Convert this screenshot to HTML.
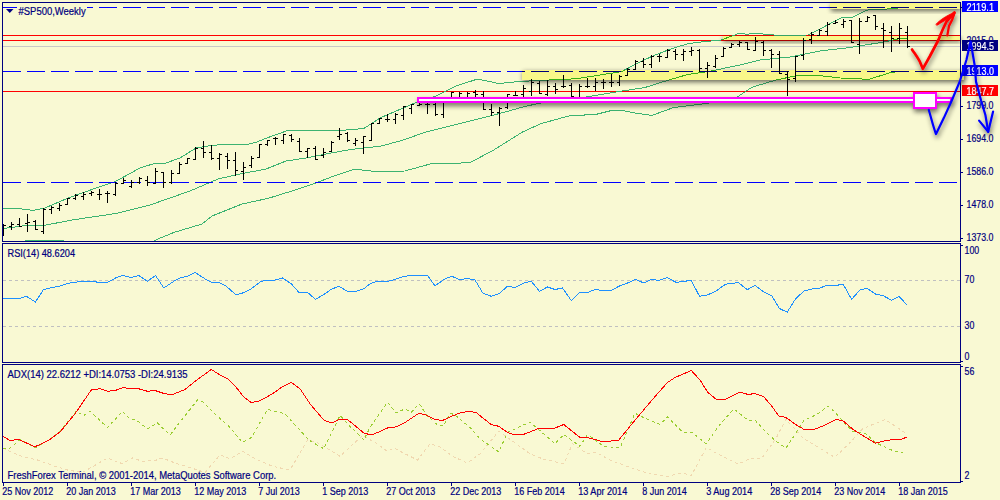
<!DOCTYPE html><html><head><meta charset="utf-8"><style>html,body{margin:0;padding:0;background:#F9F9D3;overflow:hidden}svg{display:block}</style></head><body>
<svg width="1000" height="500" viewBox="0 0 1000 500" shape-rendering="crispEdges">
<defs>
<clipPath id="cm"><rect x="3" y="3" width="957" height="238"/></clipPath>
<clipPath id="cr"><rect x="3" y="244" width="957" height="118"/></clipPath>
<clipPath id="ca"><rect x="3" y="365" width="957" height="117"/></clipPath>
<filter id="sh" x="-20%" y="-50%" width="140%" height="200%"><feGaussianBlur stdDeviation="2.6"/></filter>
<filter id="dsh" x="-30%" y="-100%" width="160%" height="300%"><feGaussianBlur in="SourceAlpha" stdDeviation="2.6"/><feOffset dx="1" dy="2.5"/><feComponentTransfer><feFuncA type="linear" slope="0.55"/></feComponentTransfer><feMerge><feMergeNode/><feMergeNode in="SourceGraphic"/></feMerge></filter>
</defs>
<rect x="0" y="0" width="1000" height="500" fill="#F9F9D3"/>
<g clip-path="url(#cm)">
<line x1="3" y1="46.5" x2="960" y2="46.5" stroke="#C8C8C8" stroke-width="1"/>
<line x1="3" y1="35.5" x2="960" y2="35.5" stroke="#FF0000" stroke-width="1"/>
<line x1="3" y1="40.5" x2="960" y2="40.5" stroke="#FF0000" stroke-width="1"/>
<line x1="3" y1="91.5" x2="960" y2="91.5" stroke="#FF0000" stroke-width="1"/>
<polyline points="0.0,208.0 16.0,208.3 33.6,210.4 44.8,208.0 67.2,198.4 96.0,188.0 115.2,181.6 140.0,168.0 154.0,163.6 166.0,163.0 180.0,158.0 196.0,148.0 208.0,146.0 226.0,144.0 244.0,145.0 256.0,142.4 264.0,139.0 275.0,135.0 289.0,130.1 320.0,130.7 350.0,129.9 364.0,128.4 380.8,117.6 397.6,110.4 414.4,103.2 436.0,96.0 455.2,86.4 476.9,79.2 485.4,80.6 498.5,83.5 517.7,81.6 540.0,80.4 576.0,78.8 597.0,75.5 621.6,71.6 640.8,61.5 652.8,56.0 672.0,48.5 688.0,43.7 704.0,41.6 720.0,40.3 734.4,35.2 739.2,33.1 747.2,34.4 753.6,33.1 776.0,35.2 808.0,35.0 819.0,29.5 842.0,17.4 852.0,17.4 860.0,13.5 866.3,10.4 871.0,9.4 887.0,9.4 887.5,8.3 895.0,8.3 907.0,7.0" fill="none" stroke="#3CB371" stroke-width="1"/>
<polyline points="0.0,229.0 24.0,225.8 43.2,225.6 72.0,220.0 115.2,213.6 150.0,205.0 170.0,198.0 190.0,191.0 218.0,179.0 240.0,174.0 266.0,169.0 286.0,161.0 306.0,158.0 326.0,154.0 350.0,149.6 362.6,148.0 380.0,146.4 404.0,139.8 425.6,132.0 447.2,126.6 471.2,120.6 490.0,116.0 509.0,111.0 525.0,106.4 541.0,103.0 583.2,97.5 619.2,91.5 645.0,87.5 668.8,80.0 688.0,74.4 708.0,71.6 740.0,65.0 760.0,60.0 790.0,57.0 820.0,51.0 850.0,47.5 865.0,45.0 882.0,42.4 898.0,39.0 907.0,38.5" fill="none" stroke="#3CB371" stroke-width="1"/>
<polyline points="150.0,243.0 158.0,239.0 174.0,232.4 202.0,224.0 212.0,216.0 242.0,204.0 268.0,198.4 290.0,191.6 314.0,183.6 334.0,176.0 354.4,169.2 376.0,171.6 404.8,171.0 431.2,163.7 469.7,162.8 493.7,150.0 522.5,132.0 541.6,123.3 553.6,120.2 568.0,116.1 596.8,114.2 611.2,110.6 623.2,110.6 635.2,113.0 652.0,115.4 673.6,107.5 707.2,103.4 737.6,96.8 752.0,87.2 776.0,80.0 800.0,75.0 820.0,75.6 840.0,78.0 860.0,78.4 864.2,79.7 868.9,79.4 890.7,72.4 895.0,72.0 907.0,71.0" fill="none" stroke="#3CB371" stroke-width="1"/>
<line x1="25" y1="240.5" x2="64" y2="240.5" stroke="#3CB371" stroke-width="1"/>
<line x1="3" y1="7.5" x2="960" y2="7.5" stroke="#0000FF" stroke-width="1" stroke-dasharray="18 6"/>
<line x1="3" y1="71.5" x2="960" y2="71.5" stroke="#0000FF" stroke-width="1" stroke-dasharray="18 6"/>
<line x1="3" y1="182.5" x2="960" y2="182.5" stroke="#0000FF" stroke-width="1" stroke-dasharray="18 6"/>
<path d="M3.5,224V236M1.0,230.5H3.5M3.5,225.5H6.0M11.5,222V230M9.0,226.5H11.5M11.5,224.5H14.0M19.5,218V227M17.0,224.5H19.5M19.5,226.5H22.0M27.5,214V232M25.0,223.5H27.5M27.5,222.5H30.0M35.5,220V230M33.0,221.5H35.5M35.5,229.5H38.0M43.5,208V234M41.0,231.5H43.5M43.5,209.5H46.0M51.5,206V214M49.0,209.5H51.5M51.5,207.5H54.0M59.5,203V211M57.0,208.5H59.5M59.5,205.5H62.0M67.5,198V205M65.0,204.5H67.5M67.5,198.5H70.0M75.5,194V200M73.0,198.5H75.5M75.5,195.5H78.0M83.5,192V200M81.0,196.5H83.5M83.5,194.5H86.0M91.5,191V196M89.0,193.5H91.5M91.5,192.5H94.0M99.5,189V200M97.0,194.5H99.5M99.5,194.5H102.0M107.5,191V203M105.0,193.5H107.5M107.5,193.5H110.0M115.5,182V196M113.0,194.5H115.5M115.5,183.5H118.0M123.5,178V184M121.0,183.5H123.5M123.5,180.5H126.0M131.5,180V188M129.0,186.5H131.5M131.5,182.5H134.0M139.5,177V184M137.0,182.5H139.5M139.5,178.5H142.0M147.5,176V186M145.0,180.5H147.5M147.5,182.5H150.0M155.5,168V184M153.0,183.5H155.5M155.5,171.5H158.0M163.5,172V188M161.0,172.5H163.5M163.5,182.5H166.0M171.5,170V184M169.0,182.5H171.5M171.5,173.5H174.0M179.5,162V174M177.0,173.5H179.5M179.5,164.5H182.0M187.5,158V164M185.0,163.5H187.5M187.5,158.5H190.0M195.5,147V160M193.0,159.5H195.5M195.5,148.5H198.0M203.5,141V158M201.0,148.5H203.5M203.5,152.5H206.0M211.5,145V160M209.0,152.5H211.5M211.5,158.5H214.0M219.5,153V170M217.0,158.5H219.5M219.5,154.5H222.0M227.5,153V169M225.0,156.5H227.5M227.5,160.5H230.0M235.5,152V176M233.0,160.5H235.5M235.5,170.5H238.0M243.5,162V180M241.0,171.5H243.5M243.5,167.5H246.0M251.5,156V168M249.0,165.5H251.5M251.5,158.5H254.0M259.5,144V158M257.0,157.5H259.5M259.5,144.5H262.0M267.5,140V146M265.0,144.5H267.5M267.5,140.5H270.0M275.5,137V145M273.0,138.5H275.5M275.5,138.5H278.0M283.5,134V144M281.0,140.5H283.5M283.5,134.5H286.0M291.5,134V142M289.0,135.5H291.5M291.5,139.5H294.0M299.5,138V152M297.0,141.5H299.5M299.5,151.5H302.0M307.5,148V158M305.0,151.5H307.5M307.5,148.5H310.0M315.5,146V160M313.0,148.5H315.5M315.5,159.5H318.0M323.5,148V158M321.0,155.5H323.5M323.5,152.5H326.0M331.5,141V152M329.0,151.5H331.5M331.5,142.5H334.0M339.5,128V140M337.0,136.5H339.5M339.5,134.5H342.0M347.5,132V142M345.0,133.5H347.5M347.5,140.5H350.0M355.5,138V146M353.0,143.5H355.5M355.5,140.5H358.0M363.5,136V154M361.0,142.5H363.5M363.5,136.5H366.0M371.5,123V141M369.0,140.5H371.5M371.5,123.5H374.0M379.5,118V124M377.0,123.5H379.5M379.5,118.5H382.0M387.5,114V122M385.0,119.5H387.5M387.5,119.5H390.0M395.5,113V124M393.0,119.5H395.5M395.5,114.5H398.0M403.5,106V120M401.0,115.5H403.5M403.5,106.5H406.0M411.5,104V114M409.0,108.5H411.5M411.5,104.5H414.0M419.5,102V106M417.0,105.5H419.5M419.5,104.5H422.0M427.5,101V114M425.0,104.5H427.5M427.5,104.5H430.0M435.5,101V116M433.0,104.5H435.5M435.5,114.5H438.0M443.5,101V118M441.0,114.5H443.5M443.5,101.5H446.0M451.5,92V99M449.0,98.5H451.5M451.5,92.5H454.0M459.5,92V99M457.0,98.5H459.5M459.5,93.5H462.0M467.5,92V99M465.0,98.5H467.5M467.5,93.5H470.0M475.5,90V99M473.0,92.5H475.5M475.5,94.5H478.0M483.5,91V110M481.0,94.5H483.5M483.5,109.5H486.0M491.5,104V116M489.0,109.5H491.5M491.5,112.5H494.0M499.5,107V126M497.0,112.5H499.5M499.5,108.5H502.0M507.5,94V109M505.0,107.5H507.5M507.5,94.5H510.0M515.5,91V96M513.0,95.5H515.5M515.5,95.5H518.0M523.5,85V97M521.0,94.5H523.5M523.5,88.5H526.0M531.5,79V96M529.0,91.5H531.5M531.5,82.5H534.0M539.5,81V94M537.0,83.5H539.5M539.5,93.5H542.0M547.5,80V96M545.0,94.5H547.5M547.5,86.5H550.0M555.5,83V94M553.0,86.5H555.5M555.5,89.5H558.0M563.5,75V88M561.0,86.5H563.5M563.5,86.5H566.0M571.5,83V97M569.0,85.5H571.5M571.5,96.5H574.0M579.5,84V103M577.0,99.5H579.5M579.5,86.5H582.0M587.5,78V88M585.0,86.5H587.5M587.5,86.5H590.0M595.5,78V91M593.0,86.5H595.5M595.5,82.5H598.0M603.5,79V89M601.0,82.5H603.5M603.5,82.5H606.0M611.5,74V87M609.0,82.5H611.5M611.5,82.5H614.0M619.5,75V86M617.0,82.5H619.5M619.5,76.5H622.0M627.5,68V76M625.0,75.5H627.5M627.5,69.5H630.0M635.5,60V70M633.0,69.5H635.5M635.5,61.5H638.0M643.5,58V68M641.0,61.5H643.5M643.5,64.5H646.0M651.5,55V68M649.0,64.5H651.5M651.5,56.5H654.0M659.5,54V62M657.0,56.5H659.5M659.5,56.5H662.0M667.5,49V58M665.0,57.5H667.5M667.5,50.5H670.0M675.5,49V60M673.0,51.5H675.5M675.5,54.5H678.0M683.5,49V61M681.0,54.5H683.5M683.5,51.5H686.0M691.5,47V56M689.0,51.5H691.5M691.5,50.5H694.0M699.5,49V72M697.0,50.5H699.5M699.5,68.5H702.0M707.5,62V78M705.0,68.5H707.5M707.5,65.5H710.0M715.5,55V68M713.0,66.5H715.5M715.5,58.5H718.0M723.5,47V57M721.0,56.5H723.5M723.5,48.5H726.0M731.5,43V48M729.0,47.5H731.5M731.5,44.5H734.0M739.5,41V47M737.0,44.5H739.5M739.5,42.5H742.0M747.5,42V50M745.0,42.5H747.5M747.5,49.5H750.0M755.5,37V51M753.0,50.5H755.5M755.5,41.5H758.0M763.5,41V56M761.0,42.5H763.5M763.5,50.5H766.0M771.5,49V68M769.0,50.5H771.5M771.5,54.5H774.0M779.5,51V74M777.0,54.5H779.5M779.5,73.5H782.0M787.5,71V96M785.0,74.5H787.5M787.5,79.5H790.0M795.5,56V82M793.0,78.5H795.5M795.5,56.5H798.0M803.5,38V60M801.0,55.5H803.5M803.5,40.5H806.0M811.5,32V44M809.0,39.5H811.5M811.5,34.5H814.0M819.5,29V36M817.0,35.5H819.5M819.5,30.5H822.0M827.5,22V36M825.0,31.5H827.5M827.5,24.5H830.0M835.5,20V24M833.0,23.5H835.5M835.5,22.5H838.0M843.5,19V28M841.0,24.5H843.5M843.5,21.5H846.0M851.5,20V43M849.0,20.5H851.5M851.5,42.5H854.0M859.5,18V54M857.0,44.5H859.5M859.5,21.5H862.0M867.5,16V22M865.0,21.5H867.5M867.5,17.5H870.0M875.5,15V30M873.0,15.5H875.5M875.5,26.5H878.0M883.5,23V48M881.0,28.5H883.5M883.5,30.5H886.0M891.5,26V52M889.0,32.5H891.5M891.5,38.5H894.0M899.5,23V44M897.0,38.5H899.5M899.5,28.5H902.0M907.5,26V48M905.0,32.5H907.5M907.5,46.5H910.0" stroke="#000" stroke-width="1" fill="none"/>
</g>
<g clip-path="url(#cr)">
<line x1="3" y1="280.5" x2="960" y2="280.5" stroke="#C0C0C0" stroke-width="1" stroke-dasharray="3 3"/>
<line x1="3" y1="326.5" x2="960" y2="326.5" stroke="#C0C0C0" stroke-width="1" stroke-dasharray="3 3"/>
<polyline points="3.0,298.3 20.0,298.3 26.3,296.3 35.5,302.0 43.5,289.5 50.0,288.0 58.8,286.3 66.3,283.8 72.5,282.5 82.5,281.3 95.0,281.3 97.5,282.5 107.5,282.5 116.3,277.5 122.5,275.5 131.3,277.5 138.8,275.5 147.5,281.3 155.5,275.5 163.8,288.0 175.0,280.5 181.3,277.5 187.5,276.3 195.0,272.5 205.0,278.8 212.5,283.0 218.8,282.5 226.3,286.3 236.3,295.0 242.5,293.0 250.0,289.5 261.3,281.3 267.5,280.0 275.0,280.0 282.5,278.0 291.3,283.8 299.5,293.0 307.0,292.0 315.5,299.3 323.8,294.5 331.3,289.3 338.8,286.3 347.5,291.3 356.3,291.3 363.8,288.8 370.0,283.8 377.5,281.3 387.5,281.3 395.0,279.5 402.5,276.8 410.0,275.5 427.5,275.5 435.0,285.8 445.0,278.8 452.0,276.3 460.0,280.0 466.3,278.3 475.0,280.0 483.0,293.3 491.3,296.3 498.8,293.8 507.5,286.3 515.0,287.5 523.8,283.0 531.3,281.3 539.5,291.3 547.5,287.0 555.0,289.5 562.5,288.0 571.3,300.5 579.5,292.5 587.5,292.5 595.0,289.5 602.5,290.5 611.3,290.5 618.8,286.3 627.5,283.0 635.5,279.3 643.8,283.0 651.3,279.3 658.8,280.5 667.0,277.5 676.3,282.5 683.8,281.3 691.3,280.5 699.5,296.3 707.5,295.0 716.3,290.8 725.6,284.2 731.2,283.4 738.2,282.6 747.4,289.6 755.0,285.4 763.4,291.8 771.8,296.0 779.6,308.6 787.2,312.2 795.6,298.8 804.0,291.0 812.4,289.0 819.4,288.2 826.4,285.6 836.2,285.4 843.2,284.2 851.6,299.4 860.0,289.8 867.0,288.4 875.4,294.0 883.8,296.0 891.4,300.2 899.2,296.6 907.1,305.0" fill="none" stroke="#1E90FF" stroke-width="1"/>
</g>
<g clip-path="url(#ca)">
<polyline points="3.0,448.0 18.8,455.5 37.5,460.0 55.0,466.3 67.5,470.0 82.5,472.5 107.5,458.0 122.5,463.8 132.5,458.0 142.5,461.3 155.0,460.5 162.5,458.0 175.0,463.0 190.0,467.5 205.0,472.5 220.0,455.0 230.0,458.8 242.5,451.3 255.0,458.8 272.5,466.3 290.0,470.0 307.5,440.0 317.5,442.5 340.0,456.3 362.5,435.5 375.0,442.5 387.5,451.3 393.8,448.0 402.5,452.5 417.5,460.0 430.0,443.8 440.0,447.0 452.5,456.3 467.5,463.0 480.0,453.8 498.8,431.3 507.5,437.5 530.0,453.8 542.5,458.8 563.8,463.8 572.5,443.8 587.5,453.8 596.3,452.5 610.0,460.0 630.0,467.5 650.0,473.8 667.5,476.3 682.5,473.0 691.3,475.5 706.3,447.5 720.0,455.2 738.2,464.2 750.8,458.0 762.0,458.0 776.0,438.4 785.8,419.4 804.0,439.0 815.2,445.4 834.8,457.4 848.8,444.0 862.8,428.6 885.2,419.4 897.8,427.8 907.1,434.2" fill="none" stroke="#F0D8B0" stroke-width="1" stroke-dasharray="3 3"/>
<polyline points="3.0,448.0 10.0,448.0 20.0,439.5 35.0,448.0 48.8,440.0 61.3,430.0 76.3,411.3 83.8,415.5 90.0,411.3 107.5,427.5 122.5,411.3 130.0,418.8 136.3,420.0 147.5,428.8 157.5,423.0 170.0,435.0 182.5,418.8 197.5,400.0 202.5,401.3 217.5,416.3 230.0,427.5 242.5,442.5 251.3,437.5 267.5,409.5 280.0,412.5 285.0,413.8 308.8,440.0 323.8,448.8 340.0,415.5 350.0,426.3 363.8,440.0 370.0,427.5 387.5,402.5 396.3,413.0 405.0,408.8 411.3,412.0 419.5,403.8 426.3,415.0 437.5,425.0 443.8,425.5 450.0,413.0 455.0,415.0 470.0,427.5 480.0,438.8 498.8,452.0 507.5,432.5 530.0,422.0 555.0,443.8 563.8,434.5 580.0,446.3 587.5,434.5 603.8,446.3 620.0,448.0 635.0,413.3 646.3,418.8 660.0,424.5 667.5,417.0 682.5,432.0 691.3,432.0 706.3,443.8 720.0,424.4 734.0,409.0 748.0,420.2 755.0,420.2 766.2,432.2 776.0,441.2 785.8,448.2 794.2,435.6 804.0,420.2 816.6,414.6 827.8,406.2 834.8,411.8 843.2,421.6 853.0,431.4 865.6,433.4 875.4,442.6 893.6,451.0 903.4,453.0" fill="none" stroke="#9ACD32" stroke-width="1" stroke-dasharray="3 3"/>
<polyline points="3.0,436.3 10.0,440.5 18.8,439.5 35.0,446.8 50.0,439.5 60.0,432.0 75.0,413.8 91.3,390.0 100.0,388.8 107.5,391.3 115.0,390.5 123.8,387.5 130.0,388.8 138.8,388.8 147.5,391.3 155.0,390.5 162.5,393.0 171.3,395.0 185.0,389.5 195.0,381.3 211.3,369.5 220.0,375.0 227.5,378.8 236.3,387.5 243.8,397.0 251.3,402.5 258.8,401.3 272.5,393.8 281.3,387.5 291.3,382.5 300.0,388.8 310.0,403.8 323.8,420.0 331.3,423.0 340.0,419.3 347.5,419.5 363.8,433.0 371.3,435.0 378.8,432.0 387.5,428.0 396.3,426.8 405.0,422.5 418.8,413.3 426.3,415.0 435.0,419.5 442.5,420.5 451.3,416.3 460.0,413.0 468.8,411.3 476.3,412.5 483.8,418.8 491.3,424.5 498.8,426.3 507.5,432.5 515.0,435.0 523.8,434.3 540.0,428.0 555.0,428.0 563.8,424.5 580.0,437.5 587.5,437.5 603.8,442.0 618.8,440.0 630.0,426.3 642.5,411.3 656.3,395.0 667.5,382.5 675.0,377.5 691.3,370.5 700.0,380.0 707.5,392.0 716.3,399.5 725.6,399.2 739.6,392.2 748.0,394.4 755.0,393.6 763.4,396.4 771.8,406.2 778.8,416.0 785.8,417.4 795.6,424.4 804.0,429.4 812.4,430.0 823.6,425.8 836.2,419.4 843.2,421.0 853.0,429.4 862.8,435.6 875.4,443.2 885.2,440.6 895.0,439.5 902.0,439.0 907.1,437.0" fill="none" stroke="#FF0000" stroke-width="1"/>
</g>
<rect x="2.5" y="2.5" width="958" height="239" fill="none" stroke="#000080" stroke-width="1"/>
<rect x="2.5" y="243.5" width="958" height="119" fill="none" stroke="#000080" stroke-width="1"/>
<rect x="2.5" y="364.5" width="958" height="118" fill="none" stroke="#000080" stroke-width="1"/>
<line x1="961" y1="7.5" x2="963" y2="7.5" stroke="#000080" stroke-width="1"/>
<line x1="961" y1="106.5" x2="963" y2="106.5" stroke="#000080" stroke-width="1"/>
<line x1="961" y1="139.5" x2="963" y2="139.5" stroke="#000080" stroke-width="1"/>
<line x1="961" y1="172.5" x2="963" y2="172.5" stroke="#000080" stroke-width="1"/>
<line x1="961" y1="205.5" x2="963" y2="205.5" stroke="#000080" stroke-width="1"/>
<line x1="961" y1="238.5" x2="963" y2="238.5" stroke="#000080" stroke-width="1"/>
<line x1="961" y1="245.5" x2="963" y2="245.5" stroke="#000080" stroke-width="1"/>
<line x1="961" y1="361.5" x2="963" y2="361.5" stroke="#000080" stroke-width="1"/>
<line x1="961" y1="366.5" x2="963" y2="366.5" stroke="#000080" stroke-width="1"/>
<line x1="961" y1="481.5" x2="963" y2="481.5" stroke="#000080" stroke-width="1"/>
<line x1="3.5" y1="483" x2="3.5" y2="486" stroke="#000080" stroke-width="1"/>
<text x="2.2" y="495.2" font-family="Liberation Sans, sans-serif" font-size="10" fill="#000080" textLength="51.04" lengthAdjust="spacingAndGlyphs" stroke="#000080" stroke-width="0.2" >25 Nov 2012</text>
<line x1="67.5" y1="483" x2="67.5" y2="486" stroke="#000080" stroke-width="1"/>
<text x="66.2" y="495.2" font-family="Liberation Sans, sans-serif" font-size="10" fill="#000080" textLength="49.54" lengthAdjust="spacingAndGlyphs" stroke="#000080" stroke-width="0.2" >20 Jan 2013</text>
<line x1="131.5" y1="483" x2="131.5" y2="486" stroke="#000080" stroke-width="1"/>
<text x="130.2" y="495.2" font-family="Liberation Sans, sans-serif" font-size="10" fill="#000080" textLength="50.53" lengthAdjust="spacingAndGlyphs" stroke="#000080" stroke-width="0.2" >17 Mar 2013</text>
<line x1="195.5" y1="483" x2="195.5" y2="486" stroke="#000080" stroke-width="1"/>
<text x="194.2" y="495.2" font-family="Liberation Sans, sans-serif" font-size="10" fill="#000080" textLength="52.04" lengthAdjust="spacingAndGlyphs" stroke="#000080" stroke-width="0.2" >12 May 2013</text>
<line x1="259.5" y1="483" x2="259.5" y2="486" stroke="#000080" stroke-width="1"/>
<text x="258.2" y="495.2" font-family="Liberation Sans, sans-serif" font-size="10" fill="#000080" textLength="41.53" lengthAdjust="spacingAndGlyphs" stroke="#000080" stroke-width="0.2" >7 Jul 2013</text>
<line x1="323.5" y1="483" x2="323.5" y2="486" stroke="#000080" stroke-width="1"/>
<text x="322.2" y="495.2" font-family="Liberation Sans, sans-serif" font-size="10" fill="#000080" textLength="46.04" lengthAdjust="spacingAndGlyphs" stroke="#000080" stroke-width="0.2" >1 Sep 2013</text>
<line x1="387.5" y1="483" x2="387.5" y2="486" stroke="#000080" stroke-width="1"/>
<text x="386.2" y="495.2" font-family="Liberation Sans, sans-serif" font-size="10" fill="#000080" textLength="49.03" lengthAdjust="spacingAndGlyphs" stroke="#000080" stroke-width="0.2" >27 Oct 2013</text>
<line x1="451.5" y1="483" x2="451.5" y2="486" stroke="#000080" stroke-width="1"/>
<text x="450.2" y="495.2" font-family="Liberation Sans, sans-serif" font-size="10" fill="#000080" textLength="51.04" lengthAdjust="spacingAndGlyphs" stroke="#000080" stroke-width="0.2" >22 Dec 2013</text>
<line x1="515.5" y1="483" x2="515.5" y2="486" stroke="#000080" stroke-width="1"/>
<text x="514.2" y="495.2" font-family="Liberation Sans, sans-serif" font-size="10" fill="#000080" textLength="50.54" lengthAdjust="spacingAndGlyphs" stroke="#000080" stroke-width="0.2" >16 Feb 2014</text>
<line x1="579.5" y1="483" x2="579.5" y2="486" stroke="#000080" stroke-width="1"/>
<text x="578.2" y="495.2" font-family="Liberation Sans, sans-serif" font-size="10" fill="#000080" textLength="49.04" lengthAdjust="spacingAndGlyphs" stroke="#000080" stroke-width="0.2" >13 Apr 2014</text>
<line x1="643.5" y1="483" x2="643.5" y2="486" stroke="#000080" stroke-width="1"/>
<text x="642.2" y="495.2" font-family="Liberation Sans, sans-serif" font-size="10" fill="#000080" textLength="44.54" lengthAdjust="spacingAndGlyphs" stroke="#000080" stroke-width="0.2" >8 Jun 2014</text>
<line x1="707.5" y1="483" x2="707.5" y2="486" stroke="#000080" stroke-width="1"/>
<text x="706.2" y="495.2" font-family="Liberation Sans, sans-serif" font-size="10" fill="#000080" textLength="46.04" lengthAdjust="spacingAndGlyphs" stroke="#000080" stroke-width="0.2" >3 Aug 2014</text>
<line x1="771.5" y1="483" x2="771.5" y2="486" stroke="#000080" stroke-width="1"/>
<text x="770.2" y="495.2" font-family="Liberation Sans, sans-serif" font-size="10" fill="#000080" textLength="51.05" lengthAdjust="spacingAndGlyphs" stroke="#000080" stroke-width="0.2" >28 Sep 2014</text>
<line x1="835.5" y1="483" x2="835.5" y2="486" stroke="#000080" stroke-width="1"/>
<text x="834.2" y="495.2" font-family="Liberation Sans, sans-serif" font-size="10" fill="#000080" textLength="51.04" lengthAdjust="spacingAndGlyphs" stroke="#000080" stroke-width="0.2" >23 Nov 2014</text>
<line x1="899.5" y1="483" x2="899.5" y2="486" stroke="#000080" stroke-width="1"/>
<text x="898.2" y="495.2" font-family="Liberation Sans, sans-serif" font-size="10" fill="#000080" textLength="49.54" lengthAdjust="spacingAndGlyphs" stroke="#000080" stroke-width="0.2" >18 Jan 2015</text>
<text x="966.5" y="109" font-family="Liberation Sans, sans-serif" font-size="10" fill="#000080" textLength="26.92" lengthAdjust="spacingAndGlyphs" stroke="#000080" stroke-width="0.2" >1799.0</text>
<text x="966.5" y="142" font-family="Liberation Sans, sans-serif" font-size="10" fill="#000080" textLength="26.92" lengthAdjust="spacingAndGlyphs" stroke="#000080" stroke-width="0.2" >1694.0</text>
<text x="966.5" y="175" font-family="Liberation Sans, sans-serif" font-size="10" fill="#000080" textLength="26.92" lengthAdjust="spacingAndGlyphs" stroke="#000080" stroke-width="0.2" >1586.0</text>
<text x="966.5" y="208" font-family="Liberation Sans, sans-serif" font-size="10" fill="#000080" textLength="26.92" lengthAdjust="spacingAndGlyphs" stroke="#000080" stroke-width="0.2" >1478.0</text>
<text x="966.5" y="241" font-family="Liberation Sans, sans-serif" font-size="10" fill="#000080" textLength="26.92" lengthAdjust="spacingAndGlyphs" stroke="#000080" stroke-width="0.2" >1373.0</text>
<text x="964.5" y="254" font-family="Liberation Sans, sans-serif" font-size="10" fill="#000080" textLength="14.68" lengthAdjust="spacingAndGlyphs" stroke="#000080" stroke-width="0.2" >100</text>
<text x="964.5" y="283" font-family="Liberation Sans, sans-serif" font-size="10" fill="#000080" textLength="9.79" lengthAdjust="spacingAndGlyphs" stroke="#000080" stroke-width="0.2" >70</text>
<text x="964.5" y="329" font-family="Liberation Sans, sans-serif" font-size="10" fill="#000080" textLength="9.79" lengthAdjust="spacingAndGlyphs" stroke="#000080" stroke-width="0.2" >30</text>
<text x="964.5" y="359.5" font-family="Liberation Sans, sans-serif" font-size="10" fill="#000080" textLength="4.89" lengthAdjust="spacingAndGlyphs" stroke="#000080" stroke-width="0.2" >0</text>
<text x="964.5" y="375" font-family="Liberation Sans, sans-serif" font-size="10" fill="#000080" textLength="9.79" lengthAdjust="spacingAndGlyphs" stroke="#000080" stroke-width="0.2" >56</text>
<text x="964.5" y="479" font-family="Liberation Sans, sans-serif" font-size="10" fill="#000080" textLength="4.89" lengthAdjust="spacingAndGlyphs" stroke="#000080" stroke-width="0.2" >2</text>
<text x="966.5" y="43.5" font-family="Liberation Sans, sans-serif" font-size="10" fill="#000080" textLength="26.92" lengthAdjust="spacingAndGlyphs" stroke="#000080" stroke-width="0.2" >2015.0</text>
<rect x="17" y="4" width="70" height="12" fill="#F9F9D3"/>
<path d="M6,9H13.5L9.75,13Z" fill="#000080" shape-rendering="auto"/>
<text x="18.5" y="14.5" font-family="Liberation Sans, sans-serif" font-size="10" fill="#000080" textLength="67.16" lengthAdjust="spacingAndGlyphs" stroke="#000080" stroke-width="0.2" >#SP500,Weekly</text>
<text x="7.5" y="256.8" font-family="Liberation Sans, sans-serif" font-size="10" fill="#000080" textLength="67.51" lengthAdjust="spacingAndGlyphs" stroke="#000080" stroke-width="0.2" >RSI(14) 48.6204</text>
<text x="7.5" y="377.6" font-family="Liberation Sans, sans-serif" font-size="10" fill="#000080" textLength="179.98" lengthAdjust="spacingAndGlyphs" stroke="#000080" stroke-width="0.2" >ADX(14) 22.6212 +DI:14.0753 -DI:24.9135</text>
<text x="7.5" y="478.5" font-family="Liberation Sans, sans-serif" font-size="10" fill="#000080" textLength="268.68" lengthAdjust="spacingAndGlyphs" stroke="#000080" stroke-width="0.2" >FreshForex Terminal, © 2001-2014, MetaQuotes Software Corp.</text>
<mask id="ym" maskUnits="userSpaceOnUse" x="0" y="0" width="1000" height="500"><rect x="0" y="0" width="1000" height="500" fill="#fff"/>
<rect x="830" y="3" width="130" height="6" fill="#000"/>
<rect x="722.5" y="36" width="237.5" height="4" fill="#000"/>
<rect x="522" y="70" width="442" height="10" fill="#000"/>
</mask>
<g mask="url(#ym)">
<rect x="830.5" y="4.5" width="130" height="6" fill="#000" opacity="0.6" filter="url(#sh)"/>
<rect x="723.0" y="37.5" width="237.5" height="4" fill="#000" opacity="0.6" filter="url(#sh)"/>
<rect x="522.5" y="71.5" width="442" height="10" fill="#000" opacity="0.6" filter="url(#sh)"/>
</g>
<rect x="830" y="3" width="130" height="6" fill="#FFFDA6" style="mix-blend-mode:multiply"/>
<rect x="722.5" y="36" width="237.5" height="4" fill="#FFFDA6" style="mix-blend-mode:multiply"/>
<rect x="522" y="70" width="442" height="10" fill="#FFFDA6" style="mix-blend-mode:multiply"/>
<clipPath id="cy"><rect x="830" y="3" width="130" height="6"/><rect x="722.5" y="36" width="237.5" height="4"/><rect x="522" y="70" width="442" height="10"/></clipPath>
<g clip-path="url(#cy)"><g clip-path="url(#cm)">
<polyline points="0.0,208.0 16.0,208.3 33.6,210.4 44.8,208.0 67.2,198.4 96.0,188.0 115.2,181.6 140.0,168.0 154.0,163.6 166.0,163.0 180.0,158.0 196.0,148.0 208.0,146.0 226.0,144.0 244.0,145.0 256.0,142.4 264.0,139.0 275.0,135.0 289.0,130.1 320.0,130.7 350.0,129.9 364.0,128.4 380.8,117.6 397.6,110.4 414.4,103.2 436.0,96.0 455.2,86.4 476.9,79.2 485.4,80.6 498.5,83.5 517.7,81.6 540.0,80.4 576.0,78.8 597.0,75.5 621.6,71.6 640.8,61.5 652.8,56.0 672.0,48.5 688.0,43.7 704.0,41.6 720.0,40.3 734.4,35.2 739.2,33.1 747.2,34.4 753.6,33.1 776.0,35.2 808.0,35.0 819.0,29.5 842.0,17.4 852.0,17.4 860.0,13.5 866.3,10.4 871.0,9.4 887.0,9.4 887.5,8.3 895.0,8.3 907.0,7.0" fill="none" stroke="#38B018" stroke-width="1"/>
<polyline points="0.0,229.0 24.0,225.8 43.2,225.6 72.0,220.0 115.2,213.6 150.0,205.0 170.0,198.0 190.0,191.0 218.0,179.0 240.0,174.0 266.0,169.0 286.0,161.0 306.0,158.0 326.0,154.0 350.0,149.6 362.6,148.0 380.0,146.4 404.0,139.8 425.6,132.0 447.2,126.6 471.2,120.6 490.0,116.0 509.0,111.0 525.0,106.4 541.0,103.0 583.2,97.5 619.2,91.5 645.0,87.5 668.8,80.0 688.0,74.4 708.0,71.6 740.0,65.0 760.0,60.0 790.0,57.0 820.0,51.0 850.0,47.5 865.0,45.0 882.0,42.4 898.0,39.0 907.0,38.5" fill="none" stroke="#38B018" stroke-width="1"/>
<polyline points="150.0,243.0 158.0,239.0 174.0,232.4 202.0,224.0 212.0,216.0 242.0,204.0 268.0,198.4 290.0,191.6 314.0,183.6 334.0,176.0 354.4,169.2 376.0,171.6 404.8,171.0 431.2,163.7 469.7,162.8 493.7,150.0 522.5,132.0 541.6,123.3 553.6,120.2 568.0,116.1 596.8,114.2 611.2,110.6 623.2,110.6 635.2,113.0 652.0,115.4 673.6,107.5 707.2,103.4 737.6,96.8 752.0,87.2 776.0,80.0 800.0,75.0 820.0,75.6 840.0,78.0 860.0,78.4 864.2,79.7 868.9,79.4 890.7,72.4 895.0,72.0 907.0,71.0" fill="none" stroke="#38B018" stroke-width="1"/>
<line x1="3" y1="7.5" x2="960" y2="7.5" stroke="#00007A" stroke-width="1" stroke-dasharray="18 6"/>
<line x1="3" y1="71.5" x2="960" y2="71.5" stroke="#00007A" stroke-width="1" stroke-dasharray="18 6"/>
<path d="M3.5,224V236M1.0,230.5H3.5M3.5,225.5H6.0M11.5,222V230M9.0,226.5H11.5M11.5,224.5H14.0M19.5,218V227M17.0,224.5H19.5M19.5,226.5H22.0M27.5,214V232M25.0,223.5H27.5M27.5,222.5H30.0M35.5,220V230M33.0,221.5H35.5M35.5,229.5H38.0M43.5,208V234M41.0,231.5H43.5M43.5,209.5H46.0M51.5,206V214M49.0,209.5H51.5M51.5,207.5H54.0M59.5,203V211M57.0,208.5H59.5M59.5,205.5H62.0M67.5,198V205M65.0,204.5H67.5M67.5,198.5H70.0M75.5,194V200M73.0,198.5H75.5M75.5,195.5H78.0M83.5,192V200M81.0,196.5H83.5M83.5,194.5H86.0M91.5,191V196M89.0,193.5H91.5M91.5,192.5H94.0M99.5,189V200M97.0,194.5H99.5M99.5,194.5H102.0M107.5,191V203M105.0,193.5H107.5M107.5,193.5H110.0M115.5,182V196M113.0,194.5H115.5M115.5,183.5H118.0M123.5,178V184M121.0,183.5H123.5M123.5,180.5H126.0M131.5,180V188M129.0,186.5H131.5M131.5,182.5H134.0M139.5,177V184M137.0,182.5H139.5M139.5,178.5H142.0M147.5,176V186M145.0,180.5H147.5M147.5,182.5H150.0M155.5,168V184M153.0,183.5H155.5M155.5,171.5H158.0M163.5,172V188M161.0,172.5H163.5M163.5,182.5H166.0M171.5,170V184M169.0,182.5H171.5M171.5,173.5H174.0M179.5,162V174M177.0,173.5H179.5M179.5,164.5H182.0M187.5,158V164M185.0,163.5H187.5M187.5,158.5H190.0M195.5,147V160M193.0,159.5H195.5M195.5,148.5H198.0M203.5,141V158M201.0,148.5H203.5M203.5,152.5H206.0M211.5,145V160M209.0,152.5H211.5M211.5,158.5H214.0M219.5,153V170M217.0,158.5H219.5M219.5,154.5H222.0M227.5,153V169M225.0,156.5H227.5M227.5,160.5H230.0M235.5,152V176M233.0,160.5H235.5M235.5,170.5H238.0M243.5,162V180M241.0,171.5H243.5M243.5,167.5H246.0M251.5,156V168M249.0,165.5H251.5M251.5,158.5H254.0M259.5,144V158M257.0,157.5H259.5M259.5,144.5H262.0M267.5,140V146M265.0,144.5H267.5M267.5,140.5H270.0M275.5,137V145M273.0,138.5H275.5M275.5,138.5H278.0M283.5,134V144M281.0,140.5H283.5M283.5,134.5H286.0M291.5,134V142M289.0,135.5H291.5M291.5,139.5H294.0M299.5,138V152M297.0,141.5H299.5M299.5,151.5H302.0M307.5,148V158M305.0,151.5H307.5M307.5,148.5H310.0M315.5,146V160M313.0,148.5H315.5M315.5,159.5H318.0M323.5,148V158M321.0,155.5H323.5M323.5,152.5H326.0M331.5,141V152M329.0,151.5H331.5M331.5,142.5H334.0M339.5,128V140M337.0,136.5H339.5M339.5,134.5H342.0M347.5,132V142M345.0,133.5H347.5M347.5,140.5H350.0M355.5,138V146M353.0,143.5H355.5M355.5,140.5H358.0M363.5,136V154M361.0,142.5H363.5M363.5,136.5H366.0M371.5,123V141M369.0,140.5H371.5M371.5,123.5H374.0M379.5,118V124M377.0,123.5H379.5M379.5,118.5H382.0M387.5,114V122M385.0,119.5H387.5M387.5,119.5H390.0M395.5,113V124M393.0,119.5H395.5M395.5,114.5H398.0M403.5,106V120M401.0,115.5H403.5M403.5,106.5H406.0M411.5,104V114M409.0,108.5H411.5M411.5,104.5H414.0M419.5,102V106M417.0,105.5H419.5M419.5,104.5H422.0M427.5,101V114M425.0,104.5H427.5M427.5,104.5H430.0M435.5,101V116M433.0,104.5H435.5M435.5,114.5H438.0M443.5,101V118M441.0,114.5H443.5M443.5,101.5H446.0M451.5,92V99M449.0,98.5H451.5M451.5,92.5H454.0M459.5,92V99M457.0,98.5H459.5M459.5,93.5H462.0M467.5,92V99M465.0,98.5H467.5M467.5,93.5H470.0M475.5,90V99M473.0,92.5H475.5M475.5,94.5H478.0M483.5,91V110M481.0,94.5H483.5M483.5,109.5H486.0M491.5,104V116M489.0,109.5H491.5M491.5,112.5H494.0M499.5,107V126M497.0,112.5H499.5M499.5,108.5H502.0M507.5,94V109M505.0,107.5H507.5M507.5,94.5H510.0M515.5,91V96M513.0,95.5H515.5M515.5,95.5H518.0M523.5,85V97M521.0,94.5H523.5M523.5,88.5H526.0M531.5,79V96M529.0,91.5H531.5M531.5,82.5H534.0M539.5,81V94M537.0,83.5H539.5M539.5,93.5H542.0M547.5,80V96M545.0,94.5H547.5M547.5,86.5H550.0M555.5,83V94M553.0,86.5H555.5M555.5,89.5H558.0M563.5,75V88M561.0,86.5H563.5M563.5,86.5H566.0M571.5,83V97M569.0,85.5H571.5M571.5,96.5H574.0M579.5,84V103M577.0,99.5H579.5M579.5,86.5H582.0M587.5,78V88M585.0,86.5H587.5M587.5,86.5H590.0M595.5,78V91M593.0,86.5H595.5M595.5,82.5H598.0M603.5,79V89M601.0,82.5H603.5M603.5,82.5H606.0M611.5,74V87M609.0,82.5H611.5M611.5,82.5H614.0M619.5,75V86M617.0,82.5H619.5M619.5,76.5H622.0M627.5,68V76M625.0,75.5H627.5M627.5,69.5H630.0M635.5,60V70M633.0,69.5H635.5M635.5,61.5H638.0M643.5,58V68M641.0,61.5H643.5M643.5,64.5H646.0M651.5,55V68M649.0,64.5H651.5M651.5,56.5H654.0M659.5,54V62M657.0,56.5H659.5M659.5,56.5H662.0M667.5,49V58M665.0,57.5H667.5M667.5,50.5H670.0M675.5,49V60M673.0,51.5H675.5M675.5,54.5H678.0M683.5,49V61M681.0,54.5H683.5M683.5,51.5H686.0M691.5,47V56M689.0,51.5H691.5M691.5,50.5H694.0M699.5,49V72M697.0,50.5H699.5M699.5,68.5H702.0M707.5,62V78M705.0,68.5H707.5M707.5,65.5H710.0M715.5,55V68M713.0,66.5H715.5M715.5,58.5H718.0M723.5,47V57M721.0,56.5H723.5M723.5,48.5H726.0M731.5,43V48M729.0,47.5H731.5M731.5,44.5H734.0M739.5,41V47M737.0,44.5H739.5M739.5,42.5H742.0M747.5,42V50M745.0,42.5H747.5M747.5,49.5H750.0M755.5,37V51M753.0,50.5H755.5M755.5,41.5H758.0M763.5,41V56M761.0,42.5H763.5M763.5,50.5H766.0M771.5,49V68M769.0,50.5H771.5M771.5,54.5H774.0M779.5,51V74M777.0,54.5H779.5M779.5,73.5H782.0M787.5,71V96M785.0,74.5H787.5M787.5,79.5H790.0M795.5,56V82M793.0,78.5H795.5M795.5,56.5H798.0M803.5,38V60M801.0,55.5H803.5M803.5,40.5H806.0M811.5,32V44M809.0,39.5H811.5M811.5,34.5H814.0M819.5,29V36M817.0,35.5H819.5M819.5,30.5H822.0M827.5,22V36M825.0,31.5H827.5M827.5,24.5H830.0M835.5,20V24M833.0,23.5H835.5M835.5,22.5H838.0M843.5,19V28M841.0,24.5H843.5M843.5,21.5H846.0M851.5,20V43M849.0,20.5H851.5M851.5,42.5H854.0M859.5,18V54M857.0,44.5H859.5M859.5,21.5H862.0M867.5,16V22M865.0,21.5H867.5M867.5,17.5H870.0M875.5,15V30M873.0,15.5H875.5M875.5,26.5H878.0M883.5,23V48M881.0,28.5H883.5M883.5,30.5H886.0M891.5,26V52M889.0,32.5H891.5M891.5,38.5H894.0M899.5,23V44M897.0,38.5H899.5M899.5,28.5H902.0M907.5,26V48M905.0,32.5H907.5M907.5,46.5H910.0" stroke="#000" stroke-width="1" fill="none"/>
</g></g>
<g filter="url(#dsh)">
<rect x="418" y="98" width="533" height="4" fill="#FFFFFF" stroke="#FF00FF" stroke-width="2"/>
<rect x="914" y="93" width="22" height="15" fill="#FFFFFF" stroke="#FF00FF" stroke-width="2"/>
</g>
<rect x="962" y="1" width="36" height="11" fill="#0000FF"/>
<text x="966.5" y="10.5" font-family="Liberation Sans, sans-serif" font-size="10" fill="#FFFFFF" textLength="27.53" lengthAdjust="spacingAndGlyphs" stroke="#FFFFFF" stroke-width="0.2" >2119.1</text>
<rect x="962" y="40" width="36" height="11" fill="#000080"/>
<text x="966.5" y="49.5" font-family="Liberation Sans, sans-serif" font-size="10" fill="#FFFFFF" textLength="27.53" lengthAdjust="spacingAndGlyphs" stroke="#FFFFFF" stroke-width="0.2" >1994.5</text>
<rect x="962" y="65" width="36" height="11" fill="#0000FF"/>
<text x="966.5" y="74.5" font-family="Liberation Sans, sans-serif" font-size="10" fill="#FFFFFF" textLength="27.53" lengthAdjust="spacingAndGlyphs" stroke="#FFFFFF" stroke-width="0.2" >1913.0</text>
<rect x="962" y="85" width="36" height="11" fill="#FF0000"/>
<text x="966.5" y="94.5" font-family="Liberation Sans, sans-serif" font-size="10" fill="#FFFFFF" textLength="27.53" lengthAdjust="spacingAndGlyphs" stroke="#FFFFFF" stroke-width="0.2" >1847.7</text>
<g filter="url(#dsh)" shape-rendering="auto" stroke-linecap="round" stroke-linejoin="round">
<path d="M912,49.5 C915,54 918,58 920,62 L922.8,68.8 L930,56 L938.4,40 L942.5,30 L946.5,21.5 L950,17.5 L954.5,12.5" stroke-width="2.7" stroke="#FF0000" fill="none"/>
<path d="M936,24.2 C940,20 945,16.5 954.8,12 L953.6,16.6 C950,18 946.5,19.5 942.5,22 C940,23.5 938,25 937.2,25.2 Z" fill="#FF0000" stroke="#FF0000" stroke-width="0.8"/>
<path d="M954.5,13 L952,20 L949,26 L947.3,35.4" stroke-width="2.3" stroke="#FF0000" fill="none"/>
</g>
<g filter="url(#dsh)" shape-rendering="auto" fill="none" stroke="#0000FF" stroke-linecap="round" stroke-linejoin="round">
<path d="M928.8,110 C931,117 933,126 936,134 L944,117.6 L952,100 L960,80.8 L966.4,60 L970.6,41.5 L974.8,66 L976,81.6 L981.2,101 L985.4,115 L988.2,131.8" stroke-width="2.2"/>
<path d="M979.1,120.6 L988.2,131.8 L993.1,111.5" stroke-width="2.2"/>
</g>
</svg></body></html>
